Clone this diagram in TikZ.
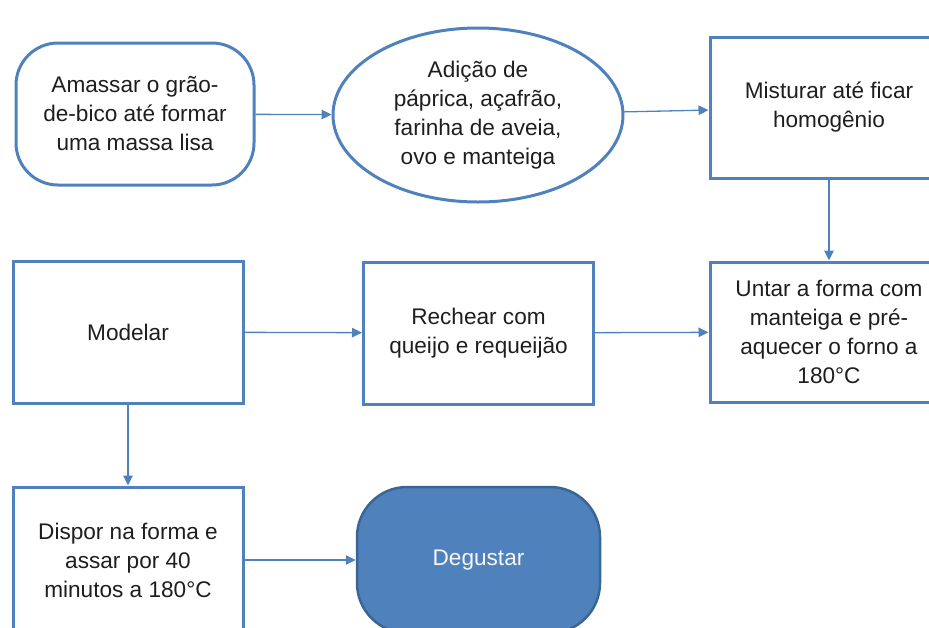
\documentclass[tikz,border=0pt]{standalone}
\usepackage{fontspec}
\setmainfont{Liberation Sans}
\usetikzlibrary{shapes.geometric,arrows.meta}
\definecolor{azul}{HTML}{4F81BD}
\definecolor{azulescuro}{HTML}{3A6594}
\definecolor{texto}{HTML}{1E1E1E}
\begin{document}
\begin{tikzpicture}[x=1pt,y=-1pt,
    every node/.style={font=\fontsize{22.6}{29}\selectfont, text=texto, align=center, inner sep=0pt},
    caixa/.style={draw=azul, line width=3pt, minimum width=230pt, minimum height=142pt},
    arredondada/.style={caixa, rounded corners=42pt, minimum width=238pt},
    oval/.style={ellipse, draw=azul, line width=3pt, minimum width=290pt, minimum height=174pt},
    final/.style={arredondada, rounded corners=50pt, fill=azul, draw=azulescuro, line width=2.5pt,
                  text=white!94!azul, minimum width=243pt, minimum height=146pt},
    seta/.style={draw=azul, line width=1.3pt, -{Triangle[length=10pt,width=9.5pt]}}]
      % Page frame
      \clip (0,0) rectangle (929,627);

      % First row
      \node[arredondada] (amassar) at (135,114) {Amassar o grão-\\de-bico até formar\\uma massa lisa};
      \node[oval] (adicao) at (478,115) {Adição de\\páprica, açafrão,\\farinha de aveia,\\ovo e manteiga};
      \node[caixa, minimum width=238pt, minimum height=141pt] (misturar) at (829,107.5) {Misturar até ficar\\homogênio};

      % Second row
      \node[caixa] (modelar) at (128,332) {Modelar};
      \node[caixa] (rechear) at (478.5,333) {Rechear com\\queijo e requeijão};
      \node[caixa, minimum width=238pt, minimum height=140pt] (untar) at (829,332) {Untar a forma com\\manteiga e pré-\\aquecer o forno a\\180°C};

      % Third row
      \node[caixa, minimum height=146pt] (dispor) at (128,560) {Dispor na forma e\\assar por 40\\minutos a 180°C};
      \node[final] (degustar) at (478.5,560) {Degustar};

      % Draw arrows
      \draw[seta] (amassar) -- (adicao);
      \draw[seta] (adicao) -- (misturar);
      \draw[seta] (misturar) -- (untar);
      \draw[seta] (modelar) -- (rechear);
      \draw[seta] (rechear) -- (untar);
      \draw[seta] (modelar) -- (dispor);
      \draw[seta] (dispor) -- (degustar);
\end{tikzpicture}
\end{document}
